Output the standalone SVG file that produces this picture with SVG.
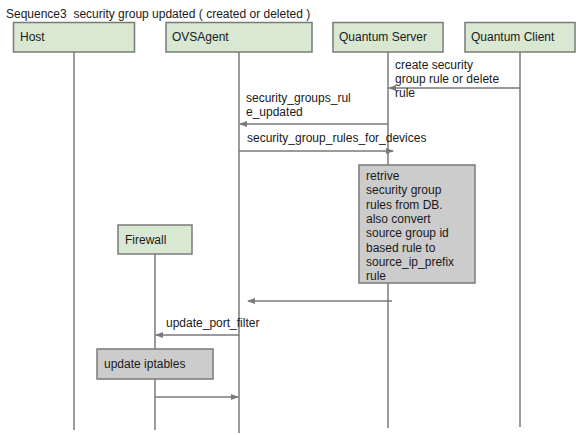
<svg xmlns="http://www.w3.org/2000/svg" width="576" height="435" viewBox="0 0 576 435">
<style>
text{font-family:"Liberation Sans",Arial,sans-serif;font-size:12px;fill:#1a1a1a}
.actor{fill:#d9e8d2;stroke:#7a7a7a;stroke-width:1.5}
.act{fill:#cccccc;stroke:#7a7a7a;stroke-width:1.5}
.life{stroke:#7a7a7a;stroke-width:1.5;fill:none}
.msg{stroke:#7a7a7a;stroke-width:1.5;fill:none;marker-end:url(#ah)}
</style>
<defs>
<marker id="ah" markerWidth="8" markerHeight="6" refX="7" refY="3" orient="auto" markerUnits="userSpaceOnUse">
<path d="M0,0 L8,3 L0,6 Z" fill="#7a7a7a"/>
</marker>
</defs>
<rect width="576" height="435" fill="#ffffff"/>
<text x="6" y="18" xml:space="preserve" style="white-space:pre">Sequence3  security group updated ( created or deleted )</text>
<g id="lifelines">
<line class="life" x1="74" y1="52" x2="74" y2="430"/>
<line class="life" x1="239" y1="52" x2="239" y2="433"/>
<line class="life" x1="388" y1="52" x2="388" y2="428"/>
<line class="life" x1="520" y1="52" x2="520" y2="427"/>
<line class="life" x1="155" y1="254" x2="155" y2="430"/>
</g>
<g id="host"><rect class="actor" x="13.5" y="22.5" width="121" height="29.5"/><text x="20" y="41">Host</text></g>
<g id="ovsagent"><rect class="actor" x="166" y="22.5" width="146" height="29.5"/><text x="172" y="41">OVSAgent</text></g>
<g id="quantum-server"><rect class="actor" x="333" y="22.5" width="110" height="29.5"/><text x="339" y="41">Quantum Server</text></g>
<g id="quantum-client"><rect class="actor" x="465" y="22.5" width="110" height="29.5"/><text x="471" y="41">Quantum Client</text></g>
<g id="firewall"><rect class="actor" x="118" y="225" width="74" height="29"/><text x="125" y="244">Firewall</text></g>
<g id="retrieve"><rect class="act" x="359" y="165" width="116" height="118"/>
<text x="366" y="180">retrive</text><text x="366" y="194.3">security group</text><text x="366" y="208.6">rules from DB.</text><text x="366" y="222.9">also convert</text><text x="366" y="237.2">source group id</text><text x="366" y="251.5">based rule to</text><text x="366" y="265.8">source_ip_prefix</text><text x="366" y="280.1">rule</text></g>
<g id="update-iptables"><rect class="act" x="97" y="349" width="116" height="30"/><text x="104" y="368">update iptables</text></g>
<g id="connectors">
<line class="msg" x1="520" y1="88" x2="389" y2="88"/>
<line class="msg" x1="388" y1="124" x2="240" y2="124"/>
<line class="msg" x1="239" y1="151" x2="393" y2="151"/>
<line class="msg" x1="392" y1="301" x2="248" y2="301"/>
<line class="msg" x1="239" y1="335" x2="156" y2="335"/>
<line class="msg" x1="155" y1="397" x2="238" y2="397"/>
</g>
<g id="labels">
<text x="395" y="69">create security</text><text x="395" y="83">group rule or delete</text><text x="395" y="97">rule</text>
<text x="246" y="102">security_groups_rul</text><text x="246" y="116">e_updated</text>
<text x="247" y="142">security_group_rules_for_devices</text>
<text x="166" y="327">update_port_filter</text>
</g>
</svg>
